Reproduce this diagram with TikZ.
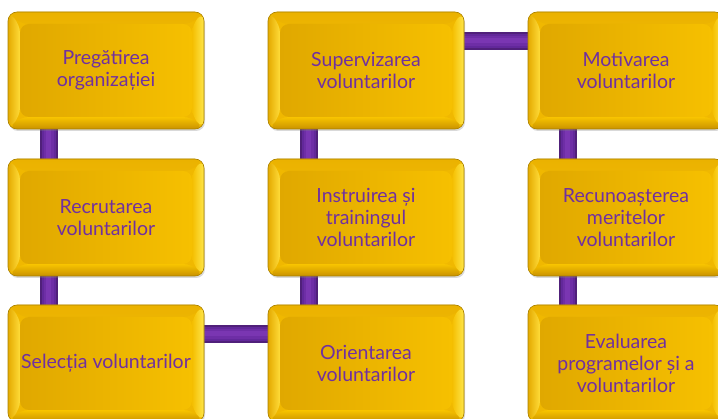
\documentclass[tikz,border=0pt]{standalone}
\usepackage{fontspec}
\setmainfont{Lato}
\usetikzlibrary{calc,backgrounds,shadows}

\definecolor{txtpurple}{HTML}{7030A0}
\definecolor{purpA}{HTML}{50207A}
\definecolor{purpB}{HTML}{62289A}
\definecolor{purpC}{HTML}{6E2EA6}
\definecolor{purpD}{HTML}{7A36B2}
\definecolor{edgegold}{HTML}{A88000}
\definecolor{facegold}{HTML}{F0B800}
\definecolor{F7top}{HTML}{EBB200}
\definecolor{F7bot}{HTML}{F9C612}
\definecolor{Rin}{HTML}{F4BE00}
\definecolor{Rout}{HTML}{FFE64A}
\definecolor{Btop}{HTML}{F8C400}
\definecolor{Bbot}{HTML}{C99200}
\definecolor{Lout}{HTML}{E4AA00}
\definecolor{Lin}{HTML}{FFDC3A}
\definecolor{Fleft}{HTML}{E0A800}
\definecolor{Fright}{HTML}{F6C000}

\tikzset{
  x=1pt, y=-1pt,
  goldbox/.style={
    rounded corners=9pt, minimum width=196pt, minimum height=117pt,
    align=center, text=txtpurple, inner sep=4pt,
    font=\fontsize{19.5}{21.7}\selectfont,
    draw=edgegold, line width=0.6pt, fill=facegold,
    drop shadow={shadow xshift=1pt, shadow yshift=-2pt, opacity=0.3},
    path picture={
      \path let \p1=(path picture bounding box.north west),
                \p2=(path picture bounding box.south east) in
        % top bevel
        [top color=F7top, bottom color=F7bot]
        (\x1,\y1) -- (\x2,\y1) -- (\x2-12pt,\y1-12pt) -- (\x1+12pt,\y1-12pt) -- cycle;
      \path let \p1=(path picture bounding box.north west),
                \p2=(path picture bounding box.south east) in
        % right bevel
        [left color=Rin, right color=Rout]
        (\x2,\y1) -- (\x2,\y2) -- (\x2-12pt,\y2+12pt) -- (\x2-12pt,\y1-12pt) -- cycle;
      \path let \p1=(path picture bounding box.north west),
                \p2=(path picture bounding box.south east) in
        % bottom bevel
        [top color=Btop, bottom color=Bbot]
        (\x2,\y2) -- (\x1,\y2) -- (\x1+12pt,\y2+12pt) -- (\x2-12pt,\y2+12pt) -- cycle;
      \path let \p1=(path picture bounding box.north west),
                \p2=(path picture bounding box.south east) in
        % left bevel
        [left color=Lout, right color=Lin]
        (\x1,\y2) -- (\x1,\y1) -- (\x1+12pt,\y1-12pt) -- (\x1+12pt,\y2+12pt) -- cycle;
      \path let \p1=(path picture bounding box.north west),
                \p2=(path picture bounding box.south east) in
        % flat face
        [left color=Fleft, right color=Fright]
        (\x1+12pt,\y1-12pt) rectangle (\x2-12pt,\y2+12pt);
    }
  },
  conn/.style={
    preaction={draw=purpA, line width=18pt},
    preaction={draw=purpB, line width=14pt},
    draw=purpC, line width=10pt,
    postaction={draw=purpD, line width=5pt}
  }
}

\begin{document}
\begin{tikzpicture}
  \useasboundingbox (0,0) rectangle (718,419);
  \clip (0,0) rectangle (718,419);

  % first column
  \node[goldbox] (b11) at (106,70.5)  {Pregătirea\\organizației};
  \node[goldbox] (b21) at (106,217.5) {Recrutarea\\voluntarilor};
  \node[goldbox] (b31) at (106,363.5) {Selecția voluntarilor};
  % second column
  \node[goldbox] (b12) at (366,70.5)  {Supervizarea\\voluntarilor};
  \node[goldbox] (b22) at (366,217.5) {Instruirea și\\trainingul\\voluntarilor};
  \node[goldbox] (b32) at (366,363.5) {Orientarea\\voluntarilor};
  % third column
  \node[goldbox] (b13) at (626,70.5)  {Motivarea\\voluntarilor};
  \node[goldbox] (b23) at (626,217.5) {Recunoașterea\\meritelor\\voluntarilor};
  \node[goldbox] (b33) at (626,363.5) {Evaluarea\\programelor și a\\voluntarilor};

  % snake-shaped connectors behind the boxes
  \begin{scope}[on background layer]
    \draw[conn] ([xshift=41pt]b11.south west) -- ([xshift=41pt]b31.north west);
    \draw[conn] ([yshift=-29pt]b31.north east) -- ([yshift=-29pt]b32.north west);
    \draw[conn] ([xshift=41pt]b32.north west) -- ([xshift=41pt]b12.south west);
    \draw[conn] ([yshift=-29pt]b12.north east) -- ([yshift=-29pt]b13.north west);
    \draw[conn] ([xshift=40pt]b13.south west) -- ([xshift=40pt]b33.north west);
  \end{scope}
\end{tikzpicture}
\end{document}
